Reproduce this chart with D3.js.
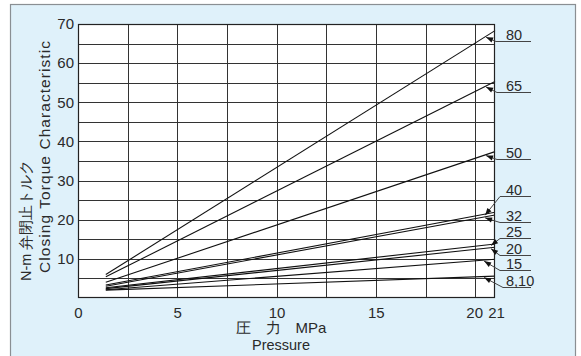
<!DOCTYPE html>
<html>
<head>
<meta charset="utf-8">
<script src="https://cdn.jsdelivr.net/npm/d3@7/dist/d3.min.js"></script>
<style>
  html, body { margin: 0; padding: 0; background: #ffffff; }
  svg { display: block; }
  text { font-family: "Liberation Sans", Arial, sans-serif; fill: #2a2a2a; }
</style>
</head>
<body>
<svg id="chart" width="581" height="356"></svg>
<script>
// ---- data ----
const seriesNames = ["80", "65", "50", "40", "32", "25", "20", "15", "8,10"];
const pressureStart = [1.4, 1.4, 1.4, 1.4, 1.4, 1.4, 1.4, 1.4, 1.4];
const pressureEnd = [21, 21, 21, 21, 21, 21, 21, 21, 21];
const torqueStart = [6.0, 5.4, 4.0, 3.3, 3.0, 2.6, 2.4, 2.1, 2.0];
const torqueEnd = [68.3, 55.3, 37.4, 21.9, 21.2, 13.8, 12.95, 9.9, 5.6];
const xTickLabels = [0, 5, 10, 15, 20, 21];
const yTickLabels = [10, 20, 30, 40, 50, 60, 70];
const xGridValues = [2.5, 5, 7.5, 10, 12.5, 15, 17.5, 20];
const yGridValues = [5, 10, 15, 20, 25, 30, 35, 40, 45, 50, 55, 60, 65];
// annotation placement (pressure where arrow touches, torque level of label underline)
const arrowPressure = [20.55, 20.55, 20.55, 20.5, 20.5, 20.8, 20.8, 20.45, 20.45];
const labelLevel = [65.6, 52.6, 35.5, 26.1, 19.5, 15.3, 11.0, 7.2, 2.8];

// ---- layout ----
const svg = d3.select("#chart");
const W = 581, H = 356;
const plot = { left: 78, right: 495, top: 24, bottom: 298 };

const x = d3.scaleLinear().domain([0, 21]).range([plot.left, plot.right]);
const y = d3.scaleLinear().domain([0, 70]).range([plot.bottom, plot.top]);

// background panel
svg.append("rect").attr("x", 0).attr("y", 0).attr("width", W).attr("height", H).attr("fill", "#ffffff");
svg.append("rect").attr("x", 10.5).attr("y", 4.5).attr("width", 565).attr("height", H)
  .attr("fill", "#dff1fa").attr("stroke", "#8a8f93").attr("stroke-width", 1.2);

// plot area
svg.append("rect").attr("x", plot.left).attr("y", plot.top)
  .attr("width", plot.right - plot.left).attr("height", plot.bottom - plot.top)
  .attr("fill", "#ffffff");

const grid = svg.append("g").attr("stroke", "#333").attr("stroke-width", 1);
grid.selectAll("line.v").data(xGridValues).join("line")
  .attr("x1", d => Math.round(x(d)) + 0.5).attr("x2", d => Math.round(x(d)) + 0.5)
  .attr("y1", plot.top).attr("y2", plot.bottom);
grid.selectAll("line.h").data(yGridValues).join("line")
  .attr("y1", d => Math.round(y(d)) + 0.5).attr("y2", d => Math.round(y(d)) + 0.5)
  .attr("x1", plot.left).attr("x2", plot.right);

// series lines
const series = seriesNames.map((n, i) => ({
  name: n,
  pts: [[pressureStart[i], torqueStart[i]], [pressureEnd[i], torqueEnd[i]]],
  arrowX: arrowPressure[i],
  label: labelLevel[i],
  valAt: p => torqueStart[i] + (torqueEnd[i] - torqueStart[i]) * (p - pressureStart[i]) / (pressureEnd[i] - pressureStart[i])
}));
const line = d3.line().x(d => x(d[0])).y(d => y(d[1]));
svg.append("g").selectAll("path").data(series).join("path")
  .attr("d", d => line(d.pts)).attr("fill", "none")
  .attr("stroke", "#111").attr("stroke-width", 1.1);

// plot border
svg.append("rect").attr("x", plot.left + 0.5).attr("y", plot.top + 0.5)
  .attr("width", plot.right - plot.left - 1).attr("height", plot.bottom - plot.top - 1)
  .attr("fill", "none").attr("stroke", "#222").attr("stroke-width", 1.2);

// axes
const xAxis = d3.axisBottom(x).tickValues(xTickLabels).tickSize(0).tickPadding(9).tickFormat(d3.format("d"));
const gx = svg.append("g").attr("transform", `translate(0,${plot.bottom})`).call(xAxis);
gx.select(".domain").remove();
gx.selectAll("text").attr("font-size", 15).attr("font-family", "Liberation Sans, Arial, sans-serif").attr("fill", "#2a2a2a")
  .attr("dx", d => d === 20 ? -1 : (d === 21 ? 1 : 0));

const yAxis = d3.axisLeft(y).tickValues(yTickLabels).tickSize(0).tickPadding(4).tickFormat(d3.format("d"));
const gy = svg.append("g").attr("transform", `translate(${plot.left},0)`).call(yAxis);
gy.select(".domain").remove();
gy.selectAll("text").attr("font-size", 15).attr("font-family", "Liberation Sans, Arial, sans-serif").attr("fill", "#2a2a2a");

// axis titles
svg.append("text").attr("x", 281).attr("y", 333).attr("text-anchor", "middle").attr("font-size", 15)
  .attr("xml:space", "preserve").text("圧　力　MPa");
svg.append("text").attr("x", 281).attr("y", 350).attr("text-anchor", "middle").attr("font-size", 14.5)
  .text("Pressure");

svg.append("text").attr("transform", "translate(31,281) rotate(-90)").attr("font-size", 14.5)
  .attr("xml:space", "preserve")
  .text("N-m 弁閉止トルク");
svg.append("text").attr("transform", "translate(50,273) rotate(-90)").attr("font-size", 15.5)
  .attr("textLength", 232).attr("lengthAdjust", "spacing")
  .text("Closing Torque Characteristic");

// annotations: arrow + leader + underlined label
const ann = svg.append("g");
const elbowX = [496, 497, 497, 500, 500, 500, 500, 500, 503];
const underlineEnd = 531;
series.forEach((s, i) => {
  const tx = x(s.arrowX), ty = y(s.valAt(s.arrowX)) + 1;
  const ly = Math.round(y(s.label)) + 0.5;
  const ex = elbowX[i];
  ann.append("path")
    .attr("d", `M${tx},${ty}L${ex},${ly}L${underlineEnd},${ly}`)
    .attr("fill", "none").attr("stroke", "#444").attr("stroke-width", 1);
  // arrowhead pointing from elbow to tip
  const ang = Math.atan2(ty - ly, tx - ex);
  const len = 7, half = 2.6;
  const bx = tx - len * Math.cos(ang), by = ty - len * Math.sin(ang);
  const px = -Math.sin(ang) * half, py = Math.cos(ang) * half;
  ann.append("path")
    .attr("d", `M${tx},${ty}L${bx + px},${by + py}L${bx - px},${by - py}Z`)
    .attr("fill", "#111");
  ann.append("text").attr("x", 506).attr("y", ly - 2).attr("font-size", 14.5).text(s.name);
});
</script>
</body>
</html>
